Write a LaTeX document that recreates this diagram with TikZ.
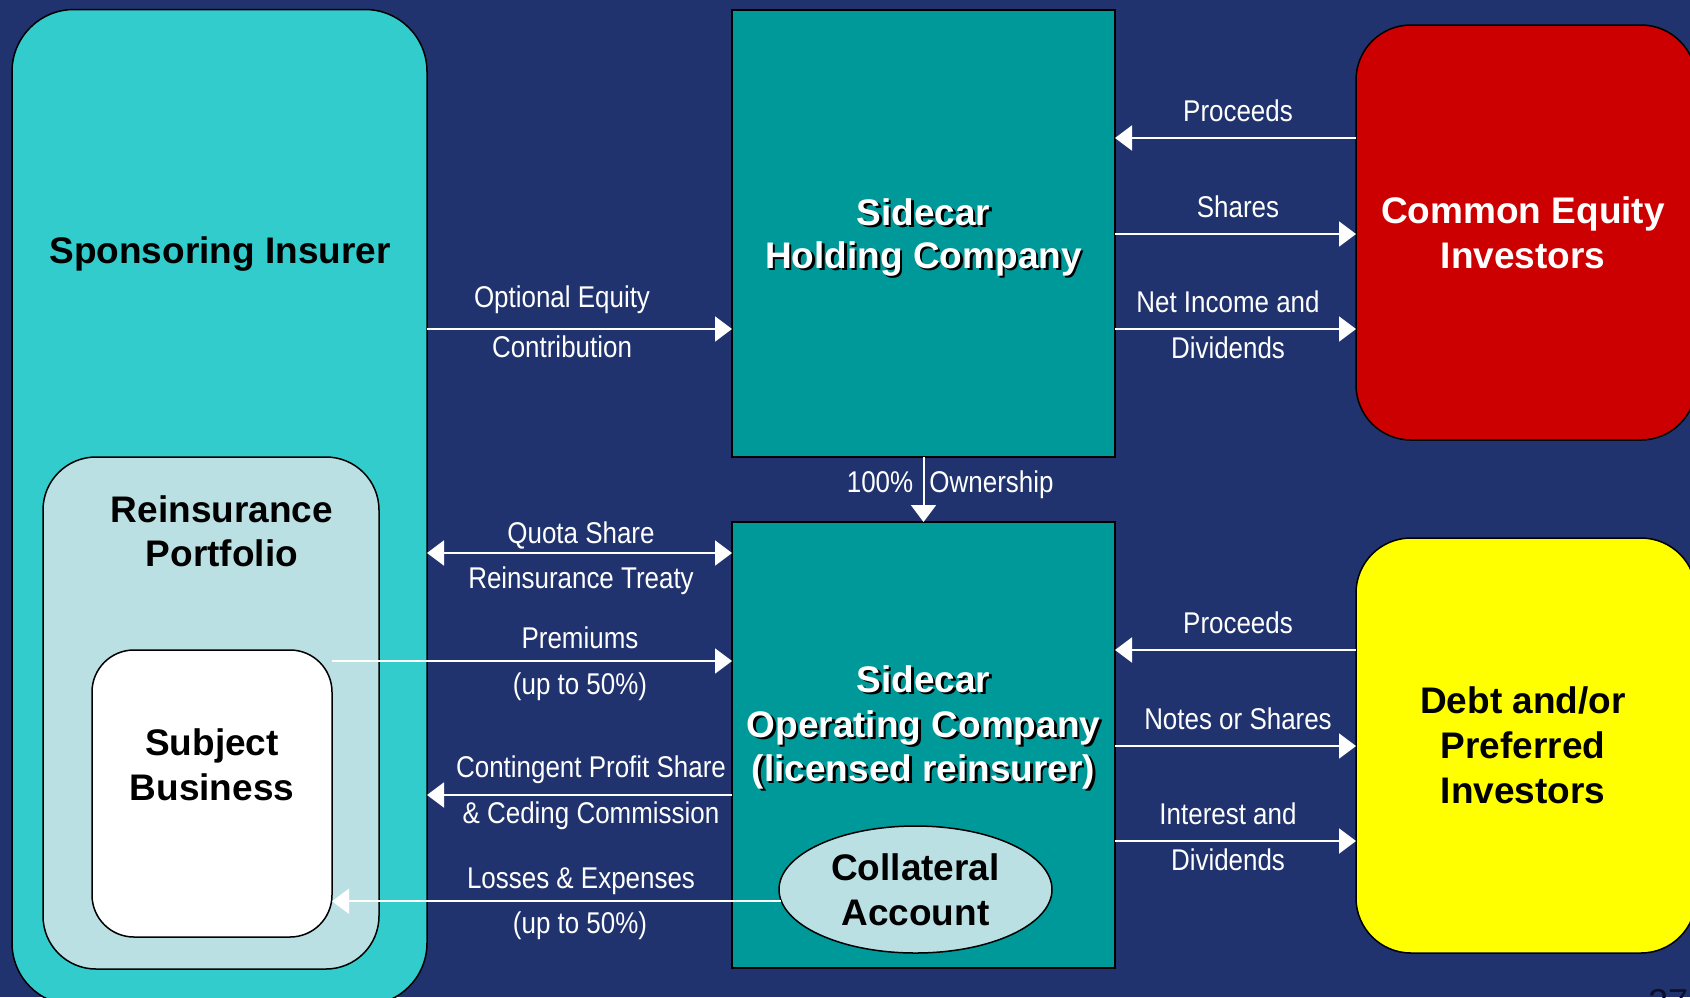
\documentclass[tikz,border=0pt]{standalone}
\usepackage{fontspec}
\setmainfont{Liberation Sans}
\newfontfamily\narrowfont[FakeStretch=0.865]{Liberation Sans}
\usetikzlibrary{arrows.meta,shapes.geometric}
\definecolor{bgnavy}{RGB}{33,51,110}
\definecolor{sponsc}{RGB}{51,204,204}
\definecolor{lightc}{RGB}{187,224,227}
\definecolor{tealc}{RGB}{0,153,153}
\definecolor{redc}{RGB}{204,0,0}
\definecolor{yellowc}{RGB}{255,255,0}
\definecolor{pagenum}{RGB}{12,16,40}
\tikzset{
  box/.style={draw=black, line width=1.5pt, inner sep=0pt, outer sep=0pt},
  ttlfont/.style={font=\fontsize{37}{45}\selectfont\bfseries, inner sep=0pt, anchor=base},
  lbl/.style={font=\narrowfont\fontsize{30}{36}\selectfont, text=white, inner sep=0pt, anchor=base},
  flow/.style={draw=white, line width=2pt, -{Triangle[length=17pt,width=25pt]}},
  flow2/.style={draw=white, line width=2pt, {Triangle[length=17pt,width=25pt]}-{Triangle[length=17pt,width=25pt]}}
}
\newcommand\shd[4]{%
  \node[ttlfont,text=black] (#1s) at (#2+2.5,#3+2.5) {#4};%
  \node[ttlfont,text=white] (#1) at (#2,#3) {#4};}
\begin{document}
\begin{tikzpicture}[x=1pt,y=-1pt]
\clip (0,0) rectangle (1690,997);
\useasboundingbox (0,0) rectangle (1690,997);
\fill[bgnavy] (0,0) rectangle (1690,997);

% boxes
\node[box, fill=sponsc, rounded corners=62pt, minimum width=415pt, minimum height=995.5pt] (spons) at (219.5,507.25) {};
\node[box, fill=lightc, rounded corners=53pt, minimum width=336pt, minimum height=512pt] (reins) at (211,713) {};
\node[box, fill=white, rounded corners=42pt, minimum width=240pt, minimum height=287pt] (subj) at (212,793.5) {};
\node[box, fill=tealc, minimum width=383pt, minimum height=447pt] (hold) at (923.5,233.5) {};
\node[box, fill=tealc, minimum width=383pt, minimum height=446pt] (oper) at (923.5,745) {};
\node[box, fill=lightc, ellipse, minimum width=273pt, minimum height=127pt] (coll) at (915.5,889.5) {};
\node[box, fill=redc, rounded corners=55pt, minimum width=340pt, minimum height=415pt] (ceq) at (1526,232.5) {};
\node[box, fill=yellowc, rounded corners=55pt, minimum width=340pt, minimum height=415pt] (debt) at (1526,745.5) {};

% titles
\node[ttlfont] (tspons) at (220,263) {Sponsoring Insurer};
\node[ttlfont] (treins1) at (222,522) {Reinsurance};
\node[ttlfont] (treins2) at (222,566) {Portfolio};
\node[ttlfont] (tsubj1) at (212,755) {Subject};
\node[ttlfont] (tsubj2) at (212,800) {Business};
\shd{thold1}{923.5}{225}{Sidecar}
\shd{thold2}{923.5}{268}{Holding Company}
\shd{toper1}{923.5}{692}{Sidecar}
\shd{toper2}{923.5}{737}{Operating Company}
\shd{toper3}{923.5}{781}{(licensed reinsurer)}
\node[ttlfont] (tcoll1) at (915.5,880) {Collateral};
\node[ttlfont] (tcoll2) at (915.5,925) {Account};
\node[ttlfont, text=white] (tceq1) at (1523,223) {Common Equity};
\node[ttlfont, text=white] (tceq2) at (1523,268) {Investors};
\node[ttlfont] (tdebt1) at (1523,713) {Debt and/or};
\node[ttlfont] (tdebt2) at (1523,758) {Preferred};
\node[ttlfont] (tdebt3) at (1523,803) {Investors};

% helper coordinates for arrow heights
\coordinate (c138) at (0,138);
\coordinate (c234) at (0,234);
\coordinate (c329) at (0,329);
\coordinate (c553) at (0,553);
\coordinate (c661) at (0,661);
\coordinate (c795) at (0,795);
\coordinate (c650) at (0,650);
\coordinate (c746) at (0,746);
\coordinate (c841) at (0,841);

% connectors
\draw[flow] (spons.east |- c329) -- (hold.west |- c329);
\draw[flow2] (spons.east |- c553) -- (oper.west |- c553);
\draw[flow] (subj.east |- c661) -- (oper.west |- c661);
\draw[flow] (oper.west |- c795) -- (spons.east |- c795);
\draw[flow] (coll.185.8) -- (coll.185.8 -| subj.east);
\draw[flow] (hold.south) -- (oper.north);
\draw[flow] (ceq.west |- c138) -- (hold.east |- c138);
\draw[flow] (hold.east |- c234) -- (ceq.west |- c234);
\draw[flow] (hold.east |- c329) -- (ceq.west |- c329);
\draw[flow] (debt.west |- c650) -- (oper.east |- c650);
\draw[flow] (oper.east |- c746) -- (debt.west |- c746);
\draw[flow] (oper.east |- c841) -- (debt.west |- c841);

% labels
\node[lbl] (l1a) at (562,307) {Optional Equity};
\node[lbl] (l1b) at (562,357) {Contribution};
\node[lbl] (l2a) at (581,543) {Quota Share};
\node[lbl] (l2b) at (581,588) {Reinsurance Treaty};
\node[lbl] (l3a) at (580,648) {Premiums};
\node[lbl] (l3b) at (580,694) {(up to 50\%)};
\node[lbl] (l4a) at (591,777) {Contingent Profit Share};
\node[lbl] (l4b) at (591,823) {\& Ceding Commission};
\node[lbl] (l5a) at (581,888) {Losses \& Expenses};
\node[lbl] (l5b) at (580,933) {(up to 50\%)};
\node[lbl] (l6a) at (880,492) {100\%};
\node[lbl] (l6b) at (991.5,492) {Ownership};
\node[lbl] (r1) at (1238,121) {Proceeds};
\node[lbl] (r2) at (1238,217) {Shares};
\node[lbl] (r3a) at (1228,312) {Net Income and};
\node[lbl] (r3b) at (1228,358) {Dividends};
\node[lbl] (r4) at (1238,633) {Proceeds};
\node[lbl] (r5) at (1238,729) {Notes or Shares};
\node[lbl] (r6a) at (1228,824) {Interest and};
\node[lbl] (r6b) at (1228,870) {Dividends};

% page number, cut by the edge
\node[font=\fontsize{36}{40}\selectfont, text=pagenum, inner sep=0pt, anchor=base west] (pnum) at (1648,1014) {27};
\end{tikzpicture}
\end{document}
